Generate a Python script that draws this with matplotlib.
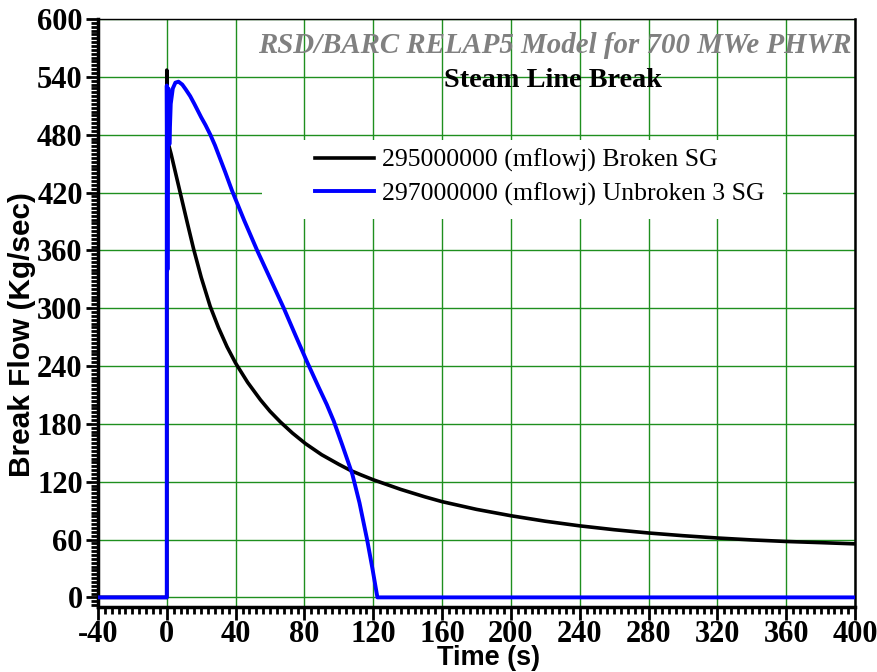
import matplotlib.pyplot as plt
from matplotlib.ticker import MultipleLocator
from matplotlib.patches import Rectangle

plt.rcParams['axes.unicode_minus'] = False

# time (s) and break flow (kg/s) for the two steam generator junctions
t_broken = [-40, 0, 0, 1, 2.5, 5, 8.7, 12, 15.5, 20, 25.2, 30, 35, 40, 47, 54.4, 60,
            66, 73, 80.6, 90, 100, 107, 113, 120, 136, 150, 160, 180, 200, 220, 240,
            260, 280, 300, 320, 340, 360, 380, 400]
flow_broken = [0, 0, 547, 470, 460, 441, 413, 388, 362, 332, 302, 280, 260, 243, 223,
               205, 193, 182, 170.5, 159.5, 148, 138, 131.5, 127, 122, 112, 104.3, 99.3,
               91.3, 84.7, 79, 74.2, 70.2, 66.8, 64, 61.6, 59.6, 58, 56.8, 55.5]

t_unbroken = [-40, 0, 0, 0.4, 0.9, 1.5, 2.3, 3.5, 5, 6.8, 9, 11, 13.6, 16, 18, 20, 22.5,
              25.3, 28, 31, 34, 37.9, 45, 52.5, 60, 68, 75, 81.6, 88, 93, 97, 102,
              107.8, 112, 116.4, 119.5, 122.4, 400]
flow_unbroken = [0, 0, 531, 340, 528, 470, 512, 528, 534, 535, 532, 527, 520, 512, 505,
                 498, 490, 480, 469, 455, 441, 422, 391, 360, 331, 300, 271, 244, 219,
                 200, 183, 158, 128, 98, 60, 30, 0, 0]

labels = ["295000000 (mflowj) Broken SG", "297000000 (mflowj) Unbroken 3 SG"]

fig = plt.figure(figsize=(8.77, 6.72), dpi=100)
ax = fig.add_axes([0.1117, 0.0967, 0.8633, 0.875])

ax.plot(t_broken, flow_broken, color='black', lw=2.6, label=labels[0], zorder=3)
ax.plot(t_unbroken, flow_unbroken, color='#0000ff', lw=2.8, label=labels[1], zorder=3)

ax.set_xlim(-40, 400)
ax.set_ylim(-10, 600)
ax.xaxis.set_major_locator(MultipleLocator(40))
ax.xaxis.set_minor_locator(MultipleLocator(4))
ax.yaxis.set_major_locator(MultipleLocator(60))
ax.yaxis.set_minor_locator(MultipleLocator(4))
ax.grid(True, which='major', color='#1f8f1f', lw=1.0)
ax.set_axisbelow(True)

ax.tick_params(which='major', direction='out', length=9, width=2, pad=2)
ax.tick_params(axis='x', which='major', pad=0.5)
ax.tick_params(which='minor', direction='out', length=5, width=2)
ax.tick_params(top=False, right=False)
for lab in ax.get_xticklabels() + ax.get_yticklabels():
    lab.set_family('Liberation Serif')
    lab.set_fontweight('bold')
    lab.set_fontsize(22)

ax.spines['left'].set_linewidth(2.5)
ax.spines['bottom'].set_linewidth(2.5)
ax.spines['right'].set_linewidth(1.8)
ax.spines['top'].set_linewidth(1.0)

ax.set_xlabel('Time (s)', family='Liberation Sans', fontweight='bold', fontsize=19.5)
ax.xaxis.set_label_coords(0.5165, -0.064)
ax.set_ylabel('Break Flow (Kg/sec)', family='Liberation Sans', fontweight='bold', fontsize=21.5)
ax.yaxis.set_label_coords(-0.082, 0.4626)

ax.text(0.995, 0.942, 'RSD/BARC RELAP5 Model for 700 MWe PHWR', transform=ax.transAxes,
        ha='right', va='baseline', family='Liberation Serif', style='italic', fontweight='bold',
        fontsize=20.8, color='#808080')
ax.text(0.601, 0.884, 'Steam Line Break', transform=ax.transAxes, ha='center', va='baseline',
        family='Liberation Serif', fontweight='bold', fontsize=20.3, color='black')

# white panel behind the legend entries
ax.add_patch(Rectangle((0.2166, 0.660), 0.905 - 0.2166, 0.794 - 0.660, transform=ax.transAxes,
                       facecolor='white', edgecolor='none', zorder=1))
leg = ax.legend(loc='center left', bbox_to_anchor=(0.27, 0.731), frameon=False,
                prop={'family': 'Liberation Serif', 'size': 18.5},
                handlelength=2.3, handletextpad=0.3, labelspacing=0.4, borderpad=0.0)

fig.savefig('out.png', dpi=100)
